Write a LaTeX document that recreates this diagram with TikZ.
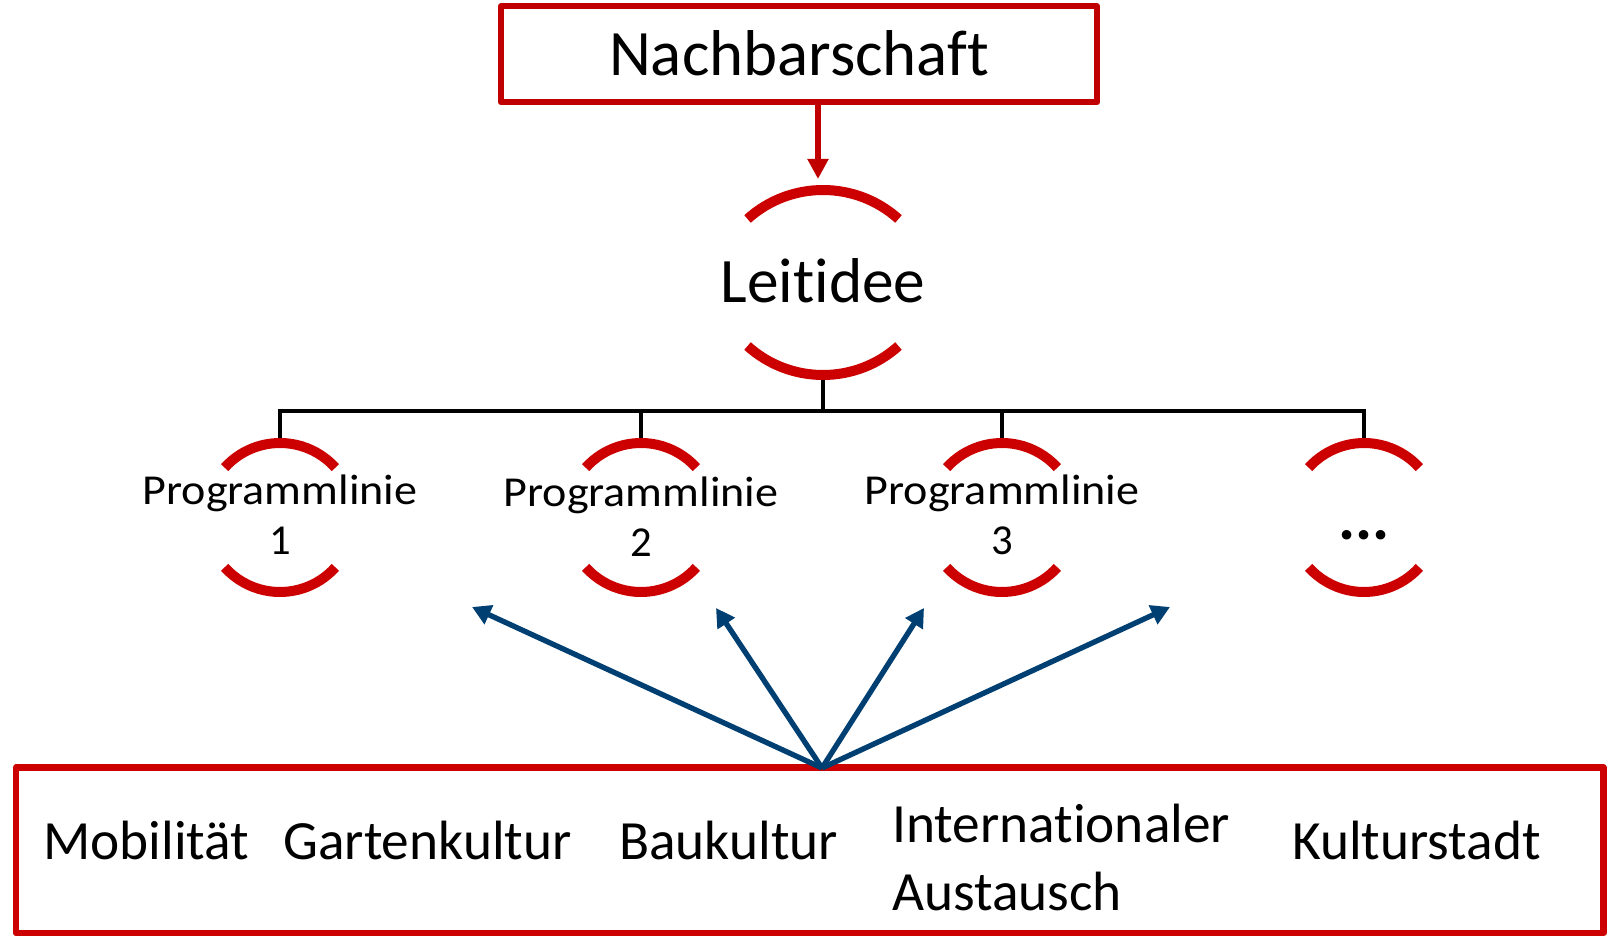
\documentclass[tikz,border=0pt]{standalone}
\usepackage{fontspec}
\setmainfont{Carlito}[Ligatures={NoCommon,NoContextual}]
\usetikzlibrary{arrows.meta}
\definecolor{boxred}{RGB}{192,0,0}
\definecolor{arcred}{RGB}{204,0,0}
\definecolor{arrowblue}{RGB}{0,63,114}
\begin{document}
\begin{tikzpicture}[x=0.75pt,y=-0.75pt,
  redbox/.style={draw=boxred,line width=4.5pt,line join=round,inner sep=0pt},
  bracketarc/.style={draw=arcred,line width=7.5pt},
  treeline/.style={draw=black,line width=3pt},
  bluearrow/.style={draw=arrowblue,line width=4pt,-{Triangle[length=14pt,width=15pt]}},
  redarrow/.style={draw=boxred,line width=4pt,-{Triangle[length=15pt,width=15pt]}},
  themetext/.style={inner sep=0pt,font=\fontsize{41.5}{50}\selectfont,anchor=base west},
  progtext/.style={inner sep=0pt,align=center,font=\fontsize{32}{37.5}\selectfont},
]
\useasboundingbox (0,0) rectangle (1616,937);

% top box
\node[redbox,minimum width=447pt,minimum height=72pt,text height=32.5pt,text depth=0pt,
      font=\fontsize{48.6}{58}\selectfont] (nach) at (799,54.3) {Nachbarschaft};

% Leitidee
\node[inner sep=0pt,anchor=base,font=\fontsize{47.5}{57}\selectfont] (leit) at (823,303) {Leit\kern0pt idee};
\coordinate (leitA) at (823,302.8);
\coordinate (leitB) at (823,262.2);
\draw[bracketarc] ([shift={(228:112.8)}]leitA) arc[start angle=228,end angle=312,radius=112.8];
\draw[bracketarc] ([shift={(48:112.8)}]leitB) arc[start angle=48,end angle=132,radius=112.8];

\coordinate (leittip) at (818,179);
\draw[redarrow] (nach.south -| leittip) -- (leittip);

% programme lines
\coordinate (c1) at (280,517.5);
\coordinate (c2) at (641,517.5);
\coordinate (c3) at (1002,517.5);
\coordinate (c4) at (1364,517.5);
\foreach \c in {c1,c2,c3,c4}{
  \draw[bracketarc] ([shift={(222:74.5)}]\c) arc[start angle=222,end angle=318,radius=74.5];
  \draw[bracketarc] ([shift={(42:74.5)}]\c) arc[start angle=42,end angle=138,radius=74.5];
}
\node[progtext] (p1) at (280,515) {\scalebox{1.08}[1]{Programmlinie}\\1};
\node[progtext] (p2) at (641,517) {\scalebox{1.08}[1]{Programmlinie}\\2};
\node[progtext] (p3) at (1002,515) {\scalebox{1.08}[1]{Programmlinie}\\3};
\node[inner sep=0pt,anchor=base,font=\fontsize{48}{58}\selectfont\bfseries] (p4) at (1364,539) {...};

% tree
\coordinate (leitbot) at (823,380);
\coordinate (bus) at (823,411);
\coordinate (p1top) at (280,438);
\coordinate (p2top) at (641,438);
\coordinate (p3top) at (1002,438);
\coordinate (p4top) at (1364,438);
\draw[treeline] (leitbot) -- (bus);
\draw[treeline] (p1top) -- (p1top |- bus) -- (p4top |- bus) -- (p4top);
\draw[treeline] (p2top) -- (p2top |- bus);
\draw[treeline] (p3top) -- (p3top |- bus);

% bottom box
\node[draw=arcred,line width=4.9pt,line join=round,inner sep=0pt,
      minimum width=1190.6pt,minimum height=124.1pt] (themes) at (809.75,850.25) {};
\node[themetext] (mob) at (43,859) {Mobilität};
\node[themetext] (gart) at (283,859) {Gartenkultur};
\node[themetext] (bau) at (619,859) {Baukultur};
\node[themetext] (intl) at (892,842.7) {Internat\kern0pt ionaler};
\node[themetext] (aus) at (892,910) {Austausch};
\node[themetext] (kult) at (1292,859) {Kulturstadt};

% blue arrows
\coordinate (src) at (822,768);
\coordinate (t1) at (472,607);
\coordinate (t2) at (716,608);
\coordinate (t3) at (924,608);
\coordinate (t4) at (1170,607);
\foreach \t in {t1,t2,t3,t4}{
  \draw[bluearrow] (src) -- (\t);
}
\end{tikzpicture}
\end{document}
